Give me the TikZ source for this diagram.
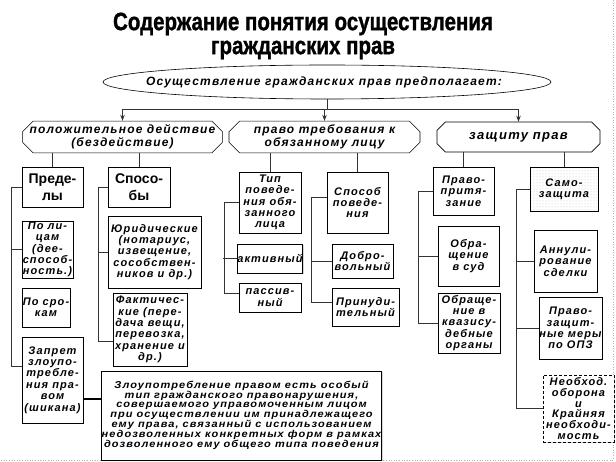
\documentclass[tikz,border=0pt]{standalone}
\usepackage{fontspec}
\setmainfont{Liberation Sans}
\newfontfamily\titlefont[FakeStretch=0.82,FakeBold=1.2]{Liberation Sans}
\newfontfamily\boxfont[LetterSpace=10]{Liberation Sans}
\newfontfamily\notefont[LetterSpace=10.5,FakeStretch=1.1]{Liberation Sans}
\usetikzlibrary{arrows.meta,shapes.geometric,shapes.misc,shadows,patterns}
\tikzset{
  heading/.style={font=\titlefont\bfseries\fontsize{25}{24}\selectfont,align=center},
  oval/.style={ellipse,draw,line width=0.6pt,inner sep=0pt},
  ovaltext/.style={font=\boxfont\bfseries\itshape\fontsize{12}{14}\selectfont,inner sep=0pt},
  hexa/.style={chamfered rectangle,chamfered rectangle xsep=7pt,draw,line width=0.6pt,inner sep=0pt,align=center,
    font=\boxfont\bfseries\itshape\fontsize{12}{13.3}\selectfont},
  box/.style={draw,fill=white,line width=0.7pt,inner sep=0pt,align=center,
    drop shadow={shadow xshift=1.3pt,shadow yshift=-1.3pt,fill=gray!65},
    font=\boxfont\bfseries\itshape\fontsize{11}{11.4}\selectfont},
  bigbox/.style={box,font=\bfseries\fontsize{14}{17}\selectfont},
  notebox/.style={box,font=\notefont\bfseries\itshape\fontsize{10}{9.4}\selectfont},
  dotbox/.style={box,preaction={fill=white},pattern=dots,pattern color=gray!45},
  link/.style={draw=black!80,line width=0.7pt},
  thicklink/.style={draw=black,line width=1.8pt},
  arr/.style={-{Stealth[length=6pt,width=4.5pt]},draw=black!80,line width=0.7pt},
  frame/.style={draw=gray!60,dotted,line width=0.6pt}
}
\begin{document}
\begin{tikzpicture}[x=1pt,y=-1pt]
\useasboundingbox (0,0) rectangle (616,462);
\draw[frame] (613,0) -- (613,460) -- (0,460);
\node[heading] (head) at (303,36) {Содержание понятия осуществления\\гражданских прав};
\node[oval,minimum width=448,minimum height=34] (main) at (327,82) {};
\node[ovaltext] (mainText) at (324,82) {Осуществление гражданских прав предполагает:};

\node[hexa,minimum width=191,minimum height=30] (act) at (122.5,137) {положительное действие\\(бездействие)};
\node[hexa,minimum width=191,minimum height=30] (claim) at (324.5,137) {право требования к\\обязанному лицу};
\node[hexa,minimum width=163,minimum height=30,font=\boxfont\bfseries\itshape\fontsize{13}{15}\selectfont] (prot) at (518.5,137) {защиту прав};
\draw[link] (main.south) -- ++(0,10) coordinate (fork);
\draw[arr] (fork) -| (act.north); \draw[arr] (fork) -| (claim.north); \draw[arr] (fork) -| (prot.north);

% left branch
\node[bigbox,minimum width=61,minimum height=40] (lim) at (52.5,187) {Преде-\\лы};
\node[bigbox,minimum width=62,minimum height=40] (way) at (139,187) {Спосо-\\бы};
\draw[link] (act.south -| lim.north) -- (lim.north); \draw[link] (act.south -| way.north) -- (way.north);
\node[box,minimum width=51,minimum height=57] (pers) at (47.5,249.5) {По ли-\\цам\\(дее-\\способ-\\ность.)};
\node[box,minimum width=48,minimum height=39] (term) at (46,307.5) {По сро-\\кам};
\node[box,minimum width=61,minimum height=86] (ban) at (52.5,380) {Запрет\\злоупо-\\требле-\\ния пра-\\вом\\(шикана)};
\node[box,minimum width=93,minimum height=72] (jur) at (154.5,252) {Юридические\\(нотариус,\\извещение,\\сособствен-\\ников и др.)};
\node[box,minimum width=74,minimum height=73] (fact) at (150,329.5) {Фактичес-\\кие (пере-\\дача вещи,\\перевозка,\\хранение и\\др.)};
\node[notebox,minimum width=277,minimum height=89] (note) at (241.5,415.5) {Злоупотребление правом есть особый\\тип гражданского правонарушения,\\совершаемого управомоченным лицом\\при осуществлении им принадлежащего\\ему права, связанный с использованием\\недозволенных конкретных форм в рамках\\дозволенного ему общего типа поведения};
\coordinate (banIn) at ([yshift=14pt]ban.west);
\coordinate (banOut) at ([yshift=-19pt]ban.east);
\coordinate (factIn) at ([yshift=-11.5pt]fact.west);
\draw[link] (lim.west) -- ++(-10,0) |- (banIn); \draw[link] (pers.west) -- ++(-10,0);
\draw[link] (way.west) -- ++(-9,0) |- (factIn); \draw[link] (jur.west) -- ++(-9,0);
\draw[thicklink] (banOut) -- (banOut -| note.west);

% middle branch
\node[box,minimum width=62,minimum height=61] (type) at (270,202.5) {Тип\\поведе-\\ния обя-\\занного\\лица};
\node[box,minimum width=61,minimum height=61] (mode) at (357.5,202.5) {Способ\\поведе-\\ния};
\draw[link] (claim.south -| type.north) -- (type.north); \draw[link] (claim.south -| mode.north) -- (mode.north);
\node[box,minimum width=62,minimum height=29] (actv) at (270,258.5) {активный};
\node[box,minimum width=62,minimum height=29] (pasv) at (270,297.5) {пассив-\\ный};
\node[box,minimum width=61,minimum height=34] (vol) at (362.5,261) {Добро-\\вольный};
\node[box,minimum width=67,minimum height=38] (forc) at (365.5,307) {Принуди-\\тельный};
\coordinate (pasvIn) at ([yshift=4pt]pasv.west);
\coordinate (modeIn) at ([yshift=5pt]mode.west);
\coordinate (forcIn) at ([yshift=5pt]forc.west);
\draw[link] (type.west) -- ++(-14,0) |- (pasvIn); \draw[link] (actv.west) -- ++(-14,0);
\draw[link] (modeIn) -- ++(-15,0) |- (forcIn); \draw[link] (vol.west) -- ++(-20,0);

% right branch
\node[box,minimum width=61,minimum height=48] (pre) at (463.5,191) {Право-\\притя-\\зание};
\node[dotbox,minimum width=68,minimum height=44] (self) at (564,189) {Само-\\защита};
\draw[link] (prot.south -| pre.north) -- (pre.north); \draw[link] (prot.south -| self.north) -- (self.north);
\node[box,minimum width=61,minimum height=60] (court) at (468.5,256) {Обра-\\щение\\в суд};
\node[box,minimum width=62,minimum height=60] (quasi) at (469,323) {Обраще-\\ние в\\квазису-\\дебные\\органы};
\node[box,minimum width=63,minimum height=62] (annul) at (565.5,261) {Аннули-\\рование\\сделки};
\node[box,minimum width=63,minimum height=62] (opz) at (570.5,328) {Право-\\защит-\\ные меры\\по ОПЗ};
\node[box,densely dashed,minimum width=71,minimum height=67,font=\boxfont\bfseries\itshape\fontsize{11}{10.8}\selectfont] (need) at (578.5,408.5) {Необход.\\оборона\\и\\Крайняя\\необходи-\\мость};
\draw[link] (pre.west) -- ++(-14,0) |- (quasi.west); \draw[link] (court.west) -- ++(-19,0);
\draw[link] (self.west) -- ++(-13,0) |- (need.west); \draw[link] (annul.west) -- ++(-17,0);
\draw[link] (opz.west) -- ++(-22,0);
\end{tikzpicture}
\end{document}
